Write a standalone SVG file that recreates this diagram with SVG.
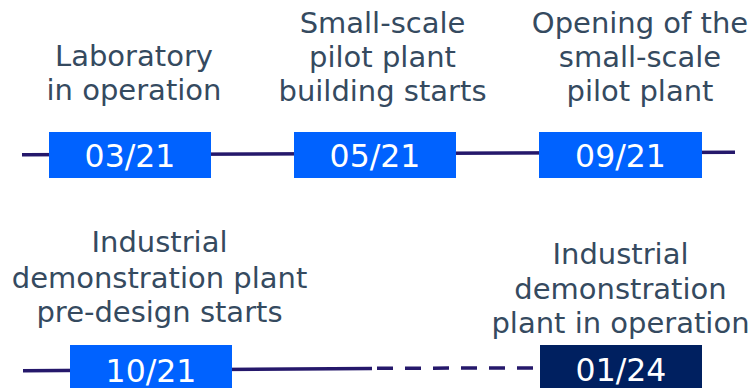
<svg xmlns="http://www.w3.org/2000/svg" width="754" height="388" viewBox="0 0 754 388">
  <style>
    .lbl { font-family: "DejaVu Sans", Verdana, sans-serif; font-size: 29px; fill: #354a5f; text-anchor: middle; }
    .date { font-family: "DejaVu Sans", Verdana, sans-serif; font-size: 31.5px; fill: #ffffff; text-anchor: middle; }
    .box { fill: #0062ff; }
    .boxdark { fill: #002060; }
    .tl { stroke: #25186b; stroke-width: 3.5; fill: none; }
  </style>
  <rect width="754" height="388" fill="#ffffff"/>
  <g id="connectors">
    <line class="tl" x1="22" y1="154.8" x2="735" y2="152.3"/>
    <line class="tl" x1="23" y1="370.8" x2="372" y2="368.5"/>
    <line class="tl" x1="377" y1="368.2" x2="540" y2="368" stroke-dasharray="16 12"/>
  </g>
  <g id="n1">
    <text class="lbl" x="134" y="65.7">Laboratory</text>
    <text class="lbl" x="134" y="100">in operation</text>
    <rect class="box" x="49" y="132" width="162" height="46"/>
    <text class="date" x="130" y="166.7">03/21</text>
  </g>
  <g id="n2">
    <text class="lbl" x="382.5" y="33">Small-scale</text>
    <text class="lbl" x="382.5" y="67">pilot plant</text>
    <text class="lbl" x="382.5" y="101">building starts</text>
    <rect class="box" x="294" y="132" width="162" height="46"/>
    <text class="date" x="375" y="166.7">05/21</text>
  </g>
  <g id="n3">
    <text class="lbl" x="640" y="33">Opening of the</text>
    <text class="lbl" x="640" y="67">small-scale</text>
    <text class="lbl" x="640" y="101">pilot plant</text>
    <rect class="box" x="539" y="132" width="163" height="46"/>
    <text class="date" x="620.5" y="166.7">09/21</text>
  </g>
  <g id="n4">
    <text class="lbl" x="159.5" y="252.3">Industrial</text>
    <text class="lbl" x="159.5" y="287.5">demonstration plant</text>
    <text class="lbl" x="159.5" y="321.7">pre-design starts</text>
    <rect class="box" x="70" y="345" width="162" height="43"/>
    <text class="date" x="151" y="381.7">10/21</text>
  </g>
  <g id="n5">
    <text class="lbl" x="620.5" y="264">Industrial</text>
    <text class="lbl" x="620.5" y="298.5">demonstration</text>
    <text class="lbl" x="620.5" y="333">plant in operation</text>
    <rect class="boxdark" x="540" y="345" width="162" height="43"/>
    <text class="date" x="621" y="381.3">01/24</text>
  </g>
</svg>
